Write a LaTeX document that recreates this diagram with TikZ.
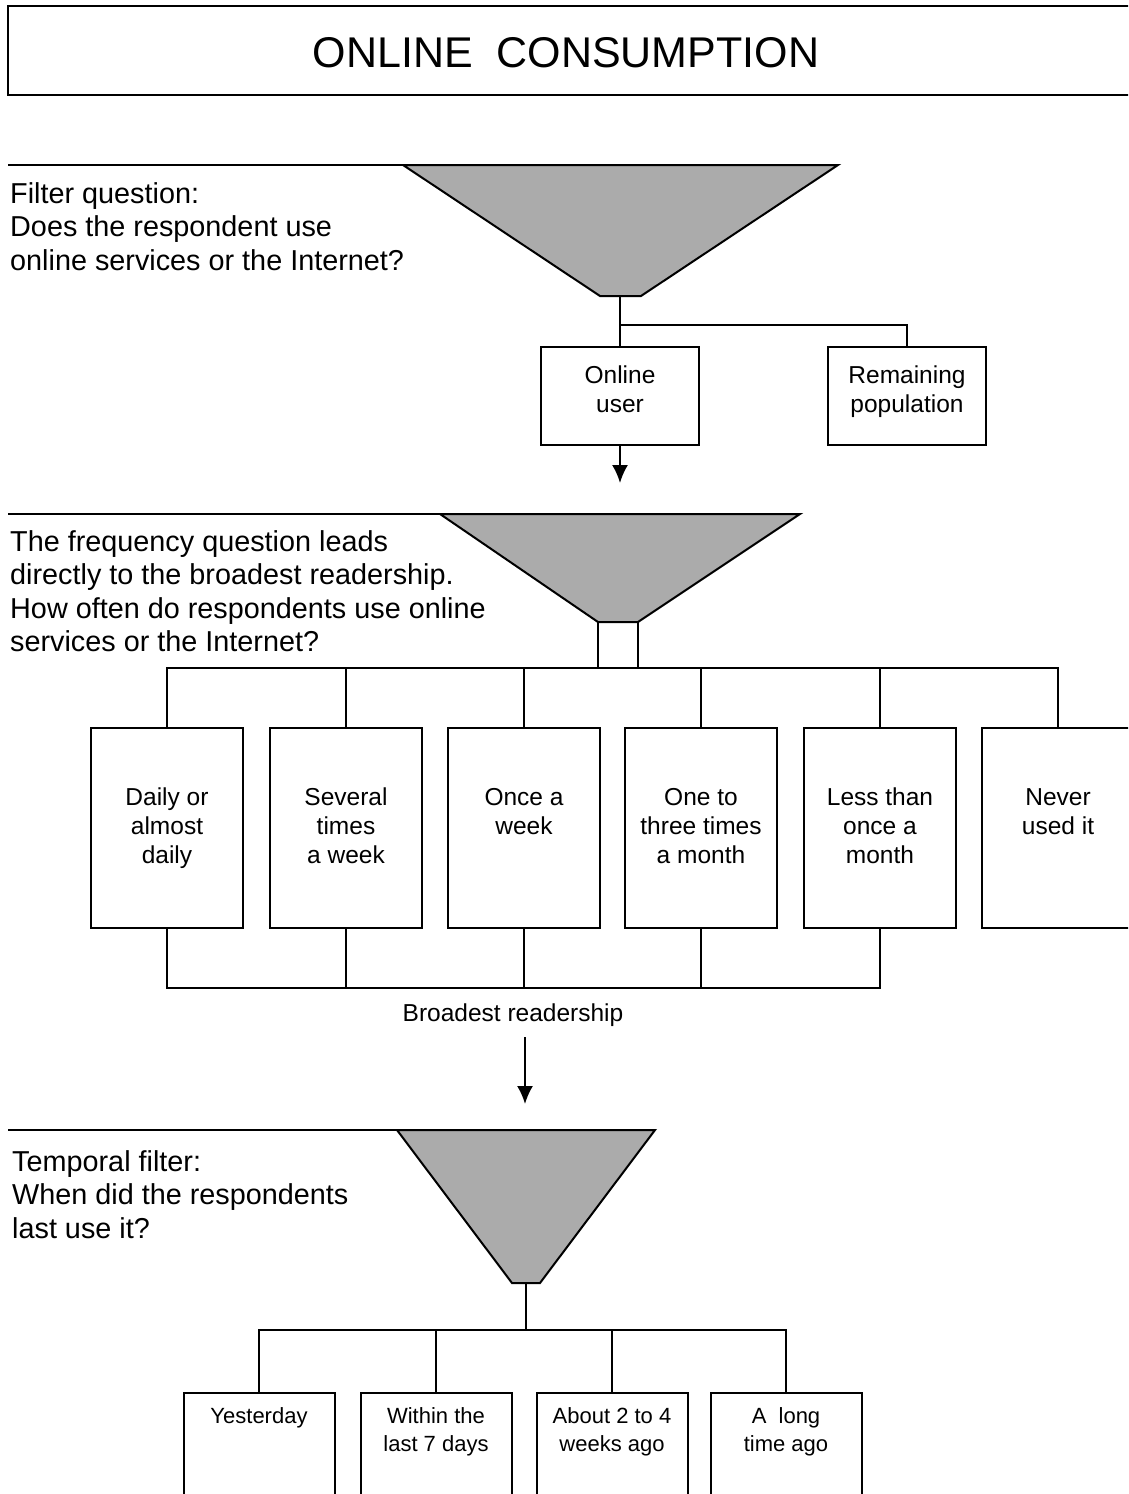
\documentclass[tikz,border=0pt]{standalone}
\usepackage{fontspec}
\setmainfont{Liberation Sans}
\usetikzlibrary{arrows.meta}
\tikzset{
	funnel/.style={draw, line width=2pt, fill=black!33},
	qtext/.style={anchor=north west, inner sep=0pt, align=left, font=\fontsize{28.8}{33.5}\selectfont},
	ubox/.style={draw, line width=2pt, minimum width=158pt, minimum height=98pt, inner sep=0pt},
	ulbl/.style={anchor=north, inner sep=0pt, yshift=-20pt, align=center, font=\fontsize{24.5}{29}\selectfont},
	fbox/.style={draw, line width=2pt, minimum width=152pt, minimum height=200pt, inner sep=0pt},
	tbox/.style={draw, line width=2pt, minimum width=151pt, minimum height=160pt, inner sep=0pt},
	flbl/.style={anchor=north, inner sep=0pt, yshift=-61pt, align=center, font=\fontsize{24.5}{29}\selectfont},
	tlbl/.style={anchor=north, inner sep=0pt, yshift=-15pt, align=center, font=\fontsize{22}{28}\selectfont},
	link/.style={line width=2pt},
	arr/.style={line width=2pt, -{Latex[length=18pt,width=16pt]}}
}
\begin{document}
\begin{tikzpicture}[x=1pt, y=-1pt]
	\useasboundingbox (0,0) rectangle (1128,1494);
	\clip (0,0) rectangle (1128,1494);
	
	% title
	\draw [line width=2pt] (1140,6) -- (8,6) -- (8,95) -- (1140,95);
	\node [font=\fontsize{43}{50}\selectfont] (title) at (566,53) {ONLINE\ \ CONSUMPTION};
	
	% filter question
	\coordinate (F1) at (620,296);
	\coordinate (J1) at (620,325);
	\coordinate (A1) at (620,483);
	\draw [link] (8,165) -- (403,165);
	\draw [funnel] (403,165) -- (838,165) -- (641,296) -- (600,296) -- cycle;
	\node [qtext] (q1) at (10,182) {Filter question:\\Does the respondent use\\online services or the Internet?};
	\node [ubox, label={[ulbl]north:Online\\user}] (user) at (620,396) {};
	\node [ubox, label={[ulbl]north:Remaining\\population}] (rest) at (907,396) {};
	\draw [link] (F1) -- (user.north);
	\draw [link] (J1) -| (rest.north);
	\draw [arr] (user.south) -- (A1);
	
	% frequency question
	\coordinate (F2a) at (598,622);
	\coordinate (F2b) at (638,622);
	\coordinate (B2) at (0,668);
	\draw [link] (8,514) -- (440,514);
	\draw [funnel] (440,514) -- (800,514) -- (638,622) -- (598,622) -- cycle;
	\node [qtext] (q2) at (10,530) {The frequency question leads\\directly to the broadest readership.\\How often do respondents use online\\services or the Internet?};
	
	\node [fbox, label={[flbl]north:Daily or\\almost\\daily}] (d1) at (167,828) {};
	\node [fbox, label={[flbl]north:Several\\times\\a week}] (d2) at (346,828) {};
	\node [fbox, label={[flbl]north:Once a\\week}] (d3) at (524,828) {};
	\node [fbox, label={[flbl]north:One to\\three times\\a month}] (d4) at (701,828) {};
	\node [fbox, label={[flbl]north:Less than\\once a\\month}] (d5) at (880,828) {};
	\node [fbox, label={[flbl]north:Never\\used it}] (d6) at (1058,828) {};
	
	\draw [link] (F2a) -- (F2a |- B2);
	\draw [link] (F2b) -- (F2b |- B2);
	\draw [link] (d1.north) -- (d1.north |- B2) -- (d6.north |- B2) -- (d6.north);
	\foreach \n in {d2,d3,d4,d5}
		\draw [link] (\n.north) -- (\n.north |- B2);
	
	% broadest readership
	\coordinate (B3) at (0,988);
	\coordinate (A2s) at (525,1037);
	\coordinate (A2) at (525,1104);
	\draw [link] (d1.south) -- (d1.south |- B3) -- (d5.south |- B3) -- (d5.south);
	\foreach \n in {d2,d3,d4}
		\draw [link] (\n.south) -- (\n.south |- B3);
	\node [font=\fontsize{24.5}{29}\selectfont] (br) at (513,1015) {Broadest readership};
	\draw [arr] (A2s) -- (A2);
	
	% temporal filter
	\coordinate (F3) at (526,1283);
	\coordinate (B4) at (0,1330);
	\draw [link] (8,1130) -- (397,1130);
	\draw [funnel] (397,1130) -- (655,1130) -- (540,1283) -- (512,1283) -- cycle;
	\node [qtext] (q3) at (12,1150) {Temporal filter:\\When did the respondents\\last use it?};
	
	\node [tbox, label={[tlbl]north:Yesterday}] (t1) at (259,1473) {};
	\node [tbox, label={[tlbl]north:Within the\\last 7 days}] (t2) at (436,1473) {};
	\node [tbox, label={[tlbl]north:About 2 to 4\\weeks ago}] (t3) at (612,1473) {};
	\node [tbox, label={[tlbl]north:A\ \ long\\time ago}] (t4) at (786,1473) {};
	
	\draw [link] (F3) -- (F3 |- B4);
	\draw [link] (t1.north) -- (t1.north |- B4) -- (t4.north |- B4) -- (t4.north);
	\foreach \n in {t2,t3}
		\draw [link] (\n.north) -- (\n.north |- B4);
	
\end{tikzpicture}
\end{document}
